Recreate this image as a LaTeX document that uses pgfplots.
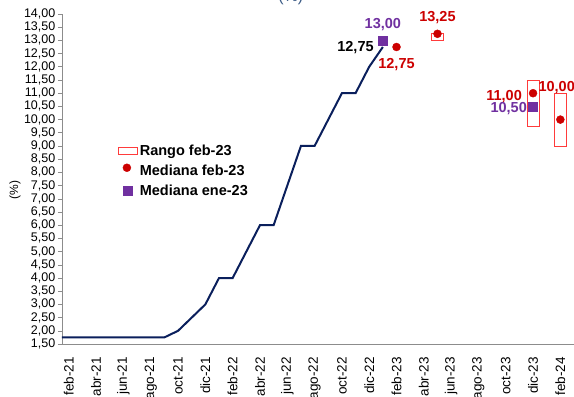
\documentclass[border=0pt]{standalone}
\usepackage{pgfplots}
\pgfplotsset{compat=1.18}
\usepackage{pgfplotstable}
\usepackage{fontspec}
\setmainfont{Liberation Sans}

\definecolor{tpmblue}{HTML}{0A1F5C}
\definecolor{medred}{HTML}{CC0000}
\definecolor{medpurple}{HTML}{7030A0}
\definecolor{rangered}{HTML}{FF3B3B}
\definecolor{axisgray}{HTML}{8C8C8C}
\definecolor{titleblue}{HTML}{3A5A85}

% policy rate, end of month (month 0 = feb-21)
\pgfplotstableread{
m    tpm
-0.5 1.75
0    1.75
1    1.75
2    1.75
3    1.75
4    1.75
5    1.75
6    1.75
7    1.75
8    2.00
9    2.50
10   3.00
11   4.00
12   4.00
13   5.00
14   6.00
15   6.00
16   7.50
17   9.00
18   9.00
19   10.00
20   11.00
21   11.00
22   12.00
23   12.75
}\tpmdata

% median of the feb-23 survey
\pgfplotstableread{
m  med
24 12.75
27 13.25
34 11.00
36 10.00
}\medfeb

% median of the jan-23 survey
\pgfplotstableread{
m  med
23 13.00
34 10.50
}\medene

% range of answers, feb-23 survey
\pgfplotstableread{
m  lo    hi
27 13.00 13.25
34 9.75  11.50
36 9.00  11.00
}\rango

\pgfplotsset{
  chartframe/.style={
    scale only axis, width=512pt, height=330pt,
    xmin=-0.5, xmax=37, ymin=1.5, ymax=14,
  },
}

\newcommand{\lblfont}{\bfseries\fontsize{14.5}{16}\selectfont}

\begin{document}
\begin{tikzpicture}
% range boxes, drawn underneath
\begin{axis}[chartframe, hide axis, ybar stacked, bar width=12pt]
  \addplot[draw=none, fill=none] table[x=m, y=lo]{\rango};
  \addplot[draw=rangered, fill=white, line width=0.9pt]
    table[x=m, y expr=\thisrow{hi}-\thisrow{lo}]{\rango};
\end{axis}

\begin{axis}[chartframe, name=main, clip=false,
  axis x line*=bottom, axis y line*=left,
  axis line style={axisgray, line width=0.8pt},
  xtick={0,2,...,36},
  xticklabels={feb-21,abr-21,jun-21,ago-21,oct-21,dic-21,feb-22,abr-22,jun-22,ago-22,oct-22,dic-22,feb-23,abr-23,jun-23,ago-23,oct-23,dic-23,feb-24},
  xtick style={draw=none},
  xticklabel style={rotate=90, anchor=east, inner sep=1pt,
    font=\fontsize{13.5}{15}\selectfont},
  xticklabel shift=8pt,
  ytick={1.5,2,...,14},
  ytick style={axisgray, line width=0.6pt},
  major tick length=4pt, tick align=outside,
  yticklabel style={font=\fontsize{12.5}{14}\selectfont, inner sep=2.5pt},
  yticklabel style={/pgf/number format/fixed, /pgf/number format/fixed zerofill,
    /pgf/number format/precision=2, /pgf/number format/use comma,
    /pgf/number format/assume math mode=true},
  ylabel={(\%)},
  ylabel style={at={(axis description cs:-0.092,0.467)}, anchor=center,
    font=\fontsize{12}{14}\selectfont},
  legend style={at={(axis description cs:0.104,0.615)}, anchor=north west,
    draw=none, fill=none, font=\lblfont, row sep=5pt,
    nodes={inner sep=1.5pt}},
  legend cell align=left,
]
  \addlegendimage{legend image code/.code={
    \draw[rangered, fill=white, line width=0.9pt] (0pt,-3.5pt) rectangle (19pt,3.5pt);}}
  \addlegendentry{Rango feb-23}
  \addlegendimage{legend image code/.code={
    \fill[medred] (8pt,3pt) circle (4pt);}}
  \addlegendentry{Mediana feb-23}
  \addlegendimage{legend image code/.code={
    \fill[medpurple] (4pt,-4.5pt) rectangle (13pt,4.5pt);}}
  \addlegendentry{Mediana ene-23}

  \addplot[tpmblue, line width=2pt, forget plot] table[x=m, y=tpm]{\tpmdata};
  \addplot[only marks, mark=square*, mark size=4.5pt, medpurple, forget plot]
    table[x=m, y=med]{\medene};
  \addplot[only marks, mark=*, mark size=4pt, medred, forget plot]
    table[x=m, y=med]{\medfeb};

  % value labels
  \node[font=\lblfont, text=medpurple, anchor=base, inner sep=0pt, yshift=12pt]
    at (axis cs:23,13) {13,00};
  \node[font=\lblfont, text=black, anchor=base east, inner sep=0pt, xshift=-9pt, yshift=-5pt]
    at (axis cs:23,12.75) {12,75};
  \node[font=\lblfont, text=medred, anchor=base, inner sep=0pt, yshift=-22pt]
    at (axis cs:24,12.75) {12,75};
  \node[font=\lblfont, text=medred, anchor=base, inner sep=0pt, yshift=12pt]
    at (axis cs:27,13.25) {13,25};
  \node[font=\lblfont, text=medred, anchor=base east, inner sep=0pt, xshift=-11pt, yshift=-7pt]
    at (axis cs:34,11) {11,00};
  \node[font=\lblfont, text=medpurple, anchor=base east, inner sep=0pt, xshift=-6pt, yshift=-6.6pt]
    at (axis cs:34,10.5) {10,50};
  \node[font=\lblfont, text=medred, anchor=base west, inner sep=0pt, xshift=-22pt, yshift=28pt]
    at (axis cs:36,10) {10,00};

  % chart title, mostly above the frame
  \node[font=\fontsize{16}{18}\selectfont, text=titleblue, anchor=base, yshift=12pt]
    at (axis description cs:0.447,1) {(\%)};
\end{axis}

\pgfresetboundingbox
\path[use as bounding box] ([shift={(-62pt,-52pt)}]main.south west)
  rectangle ([shift={(0pt,14pt)}]main.north east);
\end{tikzpicture}
\end{document}
